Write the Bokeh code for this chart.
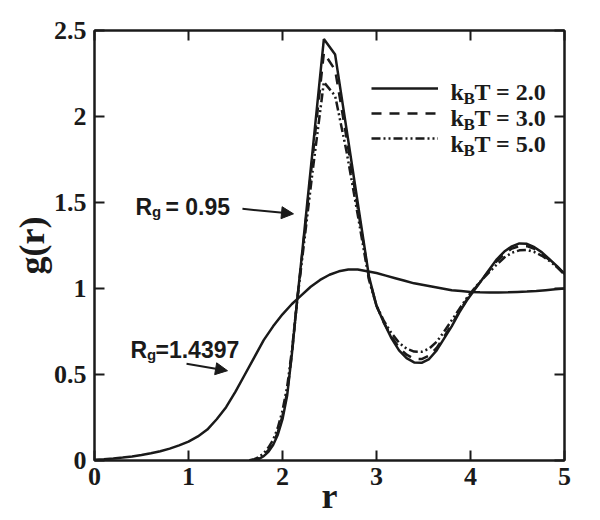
from bokeh.plotting import figure
from bokeh.models import (Range1d, LinearAxis, Legend, LegendItem, Label, Arrow,
                          NormalHead, FixedTicker, CustomJSTickFormatter)
from bokeh.embed import file_html
from bokeh.resources import INLINE

# ---------------- data ----------------
r_sharp = [1.65, 1.70, 1.75, 1.80, 1.85, 1.90, 1.95, 2.00, 2.05, 2.10, 2.15, 2.20,
           2.32, 2.44, 2.56, 2.68, 2.80, 2.92, 3.00, 3.08, 3.16, 3.24, 3.32, 3.40,
           3.48, 3.56, 3.64, 3.72, 3.80, 3.88, 3.96, 4.04, 4.12, 4.20, 4.28, 4.36,
           4.44, 4.52, 4.60, 4.68, 4.76, 4.84, 4.92, 5.00]
g_kt2 = [0.0, 0.003, 0.01, 0.025, 0.05, 0.09, 0.15, 0.24, 0.38, 0.62, 0.90, 1.16,
         1.80, 2.45, 2.36, 1.93, 1.50, 1.07, 0.90, 0.80, 0.71, 0.64, 0.595, 0.57,
         0.568, 0.59, 0.64, 0.71, 0.78, 0.86, 0.93, 0.99, 1.05, 1.11, 1.17, 1.215,
         1.245, 1.262, 1.26, 1.24, 1.21, 1.17, 1.13, 1.085]
g_kt3 = [0.0, 0.005, 0.014, 0.032, 0.06, 0.10, 0.165, 0.26, 0.40, 0.62, 0.90, 1.15,
         1.76, 2.37, 2.27, 1.88, 1.47, 1.06, 0.90, 0.80, 0.72, 0.655, 0.615, 0.592,
         0.59, 0.61, 0.655, 0.72, 0.79, 0.865, 0.935, 0.995, 1.05, 1.105, 1.16, 1.20,
         1.232, 1.247, 1.246, 1.23, 1.20, 1.165, 1.125, 1.08]
g_kt5 = [0.002, 0.008, 0.02, 0.042, 0.075, 0.12, 0.19, 0.29, 0.43, 0.64, 0.90, 1.13,
         1.68, 2.20, 2.12, 1.80, 1.43, 1.05, 0.90, 0.81, 0.74, 0.685, 0.65, 0.633,
         0.632, 0.65, 0.69, 0.75, 0.815, 0.88, 0.945, 1.00, 1.05, 1.095, 1.14, 1.18,
         1.208, 1.222, 1.224, 1.212, 1.19, 1.16, 1.125, 1.085]
r_broad = [0.0, 0.1, 0.2, 0.3, 0.4, 0.5, 0.6, 0.7, 0.8, 0.9, 1.0, 1.1, 1.2, 1.3,
           1.4, 1.5, 1.6, 1.7, 1.8, 1.9, 2.0, 2.1, 2.2, 2.3, 2.4, 2.5, 2.6, 2.7,
           2.8, 2.9, 3.0, 3.1, 3.2, 3.3, 3.4, 3.5, 3.6, 3.7, 3.8, 3.9, 4.0, 4.1,
           4.2, 4.3, 4.4, 4.5, 4.6, 4.7, 4.8, 4.9, 5.0]
g_broad = [0.005, 0.008, 0.012, 0.017, 0.023, 0.032, 0.042, 0.054, 0.069, 0.088,
           0.11, 0.14, 0.18, 0.24, 0.31, 0.40, 0.50, 0.60, 0.70, 0.78, 0.85, 0.91,
           0.96, 1.01, 1.05, 1.08, 1.10, 1.11, 1.11, 1.10, 1.09, 1.075, 1.06, 1.045,
           1.03, 1.02, 1.01, 1.00, 0.99, 0.985, 0.98, 0.978, 0.977, 0.977, 0.978,
           0.98, 0.982, 0.985, 0.99, 0.995, 1.00]
x_ticks = [0, 1, 2, 3, 4, 5]
y_ticks = [0, 0.5, 1, 1.5, 2, 2.5]
y_tick_labels = {0: "0", 0.5: "0.5", 1: "1", 1.5: "1.5", 2: "2", 2.5: "2.5"}
legend_values = ["2.0", "3.0", "5.0"]

SERIF = "Liberation Serif"
SANS = "Liberation Sans"
INK = "#1a1a1a"

p = figure(frame_width=470, frame_height=430,
           x_range=Range1d(0, 5), y_range=Range1d(0, 2.5),
           output_backend="svg", toolbar_location=None,
           min_border_left=94, min_border_right=18, min_border_top=30,
           min_border_bottom=20)
p.grid.visible = False
p.background_fill_color = "white"
p.outline_line_color = INK
p.outline_line_width = 2


def style_axis(ax, ticks):
    ax.ticker = FixedTicker(ticks=ticks)
    ax.major_tick_in = 10
    ax.major_tick_out = 0
    ax.minor_tick_in = 0
    ax.minor_tick_out = 0
    ax.major_tick_line_width = 2
    ax.major_tick_line_color = INK
    ax.axis_line_width = 2
    ax.axis_line_color = INK
    ax.major_label_text_font = SERIF
    ax.major_label_text_font_style = "bold"
    ax.major_label_text_font_size = "26px"
    ax.major_label_text_color = INK
    ax.axis_label_text_font = SERIF
    ax.axis_label_text_font_style = "bold"
    ax.axis_label_text_font_size = "36px"
    ax.axis_label_text_color = INK


xa = p.xaxis[0]
ya = p.yaxis[0]
style_axis(xa, x_ticks)
style_axis(ya, y_ticks)
xa.axis_label = "r"
ya.axis_label = "g(r)"
ya.major_label_overrides = y_tick_labels
xa.major_label_standoff = 7
ya.major_label_standoff = 8
xa.axis_label_standoff = -12
ya.axis_label_standoff = -1

blank = CustomJSTickFormatter(code="return ''")
top_ax = LinearAxis(formatter=blank)
right_ax = LinearAxis(formatter=blank)
style_axis(top_ax, x_ticks)
style_axis(right_ax, y_ticks)
top_ax.major_label_standoff = 0
right_ax.major_label_standoff = 0
p.add_layout(top_ax, "above")
p.add_layout(right_ax, "right")

LW = 2.5
# broad curve (Rg = 1.4397)
p.line(r_broad, g_broad, line_color=INK, line_width=LW)
# sharp curves (Rg = 0.95)
l2 = p.line(r_sharp, g_kt2, line_color=INK, line_width=LW)
l3 = p.line(r_sharp, g_kt3, line_color=INK, line_width=LW, line_dash="10 8")
l5 = p.line(r_sharp, g_kt5, line_color=INK, line_width=LW, line_dash="9 3 2 3 2 3")

legend = Legend(items=[LegendItem(label=" ", renderers=[l2]),
                       LegendItem(label=" ", renderers=[l3]),
                       LegendItem(label=" ", renderers=[l5])],
                location=(277, 312), glyph_width=67, glyph_height=20,
                label_width=0, label_height=20, label_standoff=0,
                padding=0, margin=0, spacing=5,
                border_line_alpha=0, background_fill_alpha=0)
p.add_layout(legend)

# legend texts k_B T = ...
row_base = [2.145, 1.993, 1.842]
for val, yb in zip(legend_values, row_base):
    p.add_layout(Label(x=3.787, y=yb, text="k", text_font=SERIF, text_font_style="bold",
                       text_font_size="24px", text_color=INK, text_baseline="alphabetic"))
    p.add_layout(Label(x=3.926, y=yb - 0.041, text="B", text_font=SERIF,
                       text_font_style="bold", text_font_size="17px", text_color=INK,
                       text_baseline="alphabetic"))
    p.add_layout(Label(x=4.043, y=yb, text="T = " + val, text_font=SERIF,
                       text_font_style="bold", text_font_size="24px", text_color=INK,
                       text_baseline="alphabetic"))


# annotations R_g
def rg_label(x, y, xs, xr, rest):
    p.add_layout(Label(x=x, y=y, text="R", text_font=SANS, text_font_style="bold",
                       text_font_size="23px", text_color=INK, text_baseline="alphabetic"))
    p.add_layout(Label(x=xs, y=y - 0.026, text="g", text_font=SANS, text_font_style="bold",
                       text_font_size="15px", text_color=INK, text_baseline="alphabetic"))
    p.add_layout(Label(x=xr, y=y, text=rest, text_font=SANS, text_font_style="bold",
                       text_font_size="23px", text_color=INK, text_baseline="alphabetic"))


rg_label(0.436, 1.476, 0.612, 0.755, "= 0.95")
rg_label(0.383, 0.645, 0.559, 0.649, "=1.4397")

p.add_layout(Arrow(x_start=1.574, y_start=1.463, x_end=2.117, y_end=1.434,
                   line_width=2, line_color=INK,
                   end=NormalHead(size=12, fill_color=INK, line_color=INK)))
p.add_layout(Arrow(x_start=0.979, y_start=0.562, x_end=1.415, y_end=0.522,
                   line_width=2, line_color=INK,
                   end=NormalHead(size=12, fill_color=INK, line_color=INK)))

open("out.html", "w").write(file_html(p, INLINE))
